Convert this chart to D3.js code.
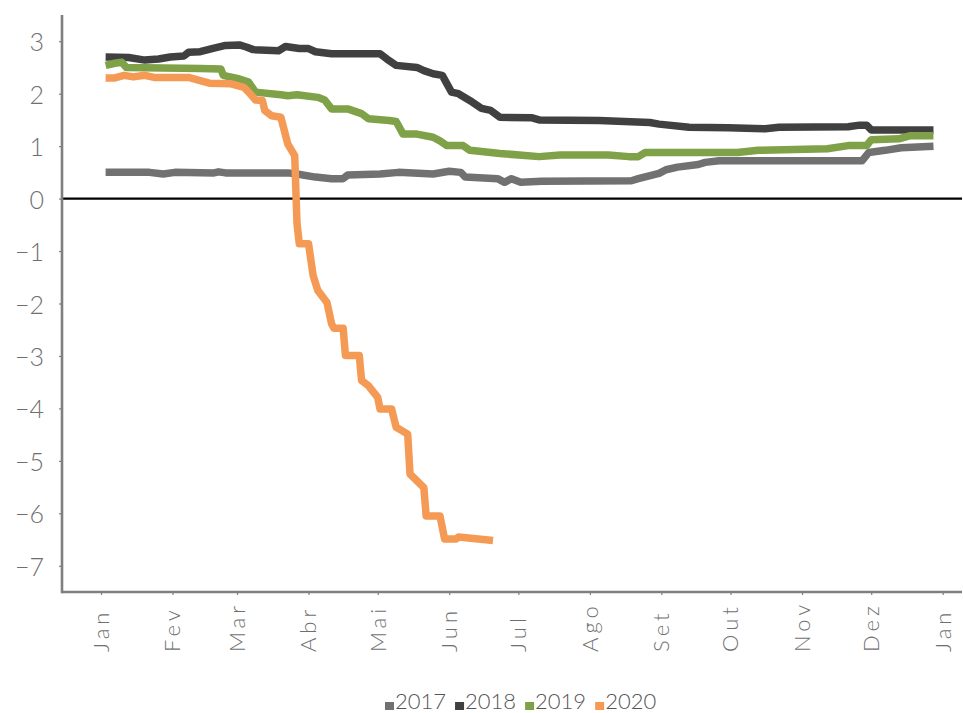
<!DOCTYPE html>
<html>
<head>
<meta charset="utf-8">
<script src="https://cdn.jsdelivr.net/npm/d3@7"></script>
<style>
  body { margin: 0; background: #fff; }
  svg text { font-family: Lato, "Open Sans", sans-serif; font-weight: 300; }
</style>
</head>
<body>
<svg id="chart" width="963" height="713"></svg>
<script>
// ---- data ----
const monthLabels = ["Jan","Fev","Mar","Abr","Mai","Jun","Jul","Ago","Set","Out","Nov","Dez","Jan"];
const yTickValues = [3, 2, 1, 0, -1, -2, -3, -4, -5, -6, -7];
const seriesNames = ["2017", "2018", "2019", "2020"];
const seriesColors = ["#717171", "#404040", "#7fa147", "#f59a55"];

const dates2017 = ["01-03","01-17","01-22","01-28","02-02","02-19","02-21","02-24","03-23","03-27","04-04","04-11","04-16","04-18","05-02","05-10","05-25","06-01","06-06","06-08","06-22","06-25","06-28","07-02","07-11","08-19","08-22","08-31","09-03","09-08","09-17","09-20","09-26","11-27","11-30","12-07","12-14","12-28"];
const values2017 = [0.50,0.50,0.50,0.47,0.50,0.49,0.51,0.49,0.49,0.47,0.41,0.38,0.38,0.45,0.47,0.50,0.47,0.52,0.50,0.41,0.38,0.31,0.38,0.31,0.33,0.34,0.38,0.48,0.55,0.60,0.65,0.69,0.72,0.72,0.88,0.92,0.97,1.00];

const dates2018 = ["01-03","01-13","01-20","01-26","01-31","02-06","02-08","02-13","02-19","02-24","03-02","03-05","03-08","03-19","03-22","03-28","04-01","04-04","04-11","05-02","05-05","05-09","05-18","05-21","05-25","05-29","06-02","06-05","06-11","06-15","06-19","06-23","07-07","07-10","08-05","08-27","08-31","09-13","09-30","10-16","10-22","11-21","11-26","11-29","12-01","12-28"];
const values2018 = [2.70,2.69,2.64,2.66,2.70,2.72,2.79,2.80,2.87,2.92,2.93,2.89,2.84,2.82,2.90,2.86,2.86,2.80,2.76,2.76,2.66,2.54,2.50,2.44,2.38,2.35,2.03,2.00,1.84,1.72,1.68,1.55,1.54,1.50,1.49,1.45,1.42,1.36,1.35,1.33,1.36,1.37,1.40,1.40,1.31,1.31];

const dates2019 = ["01-03","01-07","01-10","01-12","02-13","02-22","02-23","03-02","03-06","03-09","03-20","03-23","03-27","04-05","04-08","04-11","04-18","04-24","04-27","05-06","05-09","05-12","05-18","05-25","05-28","05-31","06-07","06-10","06-23","07-10","07-19","08-09","08-18","08-22","08-25","10-04","10-13","11-12","11-21","11-29","12-01","12-13","12-18","12-28"];
const values2019 = [2.54,2.58,2.60,2.50,2.48,2.47,2.35,2.28,2.22,2.03,1.98,1.96,1.98,1.93,1.88,1.71,1.71,1.62,1.52,1.49,1.47,1.23,1.23,1.17,1.10,1.01,1.01,0.92,0.86,0.80,0.83,0.83,0.80,0.80,0.88,0.88,0.92,0.95,1.01,1.01,1.12,1.14,1.20,1.20];

const dates2020 = ["01-03","01-07","01-11","01-15","01-20","01-24","02-08","02-13","02-17","02-26","03-04","03-06","03-09","03-12","03-13","03-16","03-20","03-23","03-26","03-27","03-28","04-01","04-03","04-05","04-09","04-11","04-12","04-16","04-17","04-23","04-24","04-27","05-01","05-02","05-07","05-09","05-14","05-15","05-21","05-22","05-28","05-30","06-04","06-05","06-20"];
const values2020 = [2.30,2.30,2.35,2.32,2.35,2.31,2.31,2.25,2.20,2.19,2.12,2.03,1.88,1.87,1.68,1.58,1.55,1.04,0.82,-0.48,-0.86,-0.86,-1.47,-1.75,-1.98,-2.39,-2.47,-2.47,-2.99,-2.99,-3.47,-3.57,-3.79,-4.01,-4.01,-4.36,-4.49,-5.25,-5.51,-6.05,-6.05,-6.49,-6.49,-6.45,-6.52];

const seriesDates = [dates2017, dates2018, dates2019, dates2020];
const seriesValues = [values2017, values2018, values2019, values2020];

// ---- chart ----
const svg = d3.select("#chart");
const parse = d3.timeParse("%m-%d"); // year 1900 (non-leap)
const start = new Date(1900, 0, 1), end = new Date(1901, 0, 1);

const x = d3.scaleTime().domain([start, end]).range([101, 942.7]);
const y = d3.scaleLinear().domain([-7.5, 3.5]).range([592, 15]);

const plotLeft = 62, plotRight = 962;
const axisColor = "#7f7f7f", textColor = "#6f6f6f";

// zero line
svg.append("line")
  .attr("x1", plotLeft).attr("x2", plotRight)
  .attr("y1", y(0)).attr("y2", y(0))
  .attr("stroke", "#000").attr("stroke-width", 2.2);

// y axis
const yAxis = svg.append("g").attr("transform", `translate(${plotLeft},0)`)
  .call(d3.axisLeft(y).tickValues(yTickValues).tickSize(3).tickPadding(15)
    .tickFormat(d => d < 0 ? "\u2212" + Math.abs(d) : String(d)));
yAxis.select(".domain").remove();
yAxis.selectAll(".tick line").attr("stroke", axisColor).attr("stroke-width", 1.2);
yAxis.selectAll(".tick text").attr("fill", textColor).attr("font-size", 25)
  .attr("font-family", null).attr("dy", "0.38em");
svg.append("line").attr("x1", plotLeft).attr("x2", plotLeft)
  .attr("y1", y(3.5)).attr("y2", y(-7.5) + 1.2)
  .attr("stroke", axisColor).attr("stroke-width", 2.6);

// x axis
const monthTicks = d3.timeMonth.range(start, d3.timeDay.offset(end, 1));
const xAxis = svg.append("g").attr("transform", `translate(0,${y(-7.5)})`)
  .call(d3.axisBottom(x).tickValues(monthTicks).tickSize(3).tickFormat(""));
xAxis.select(".domain").remove();
xAxis.selectAll(".tick line").attr("stroke", axisColor).attr("stroke-width", 1.2);
svg.append("line").attr("x1", plotLeft).attr("x2", plotRight)
  .attr("y1", y(-7.5)).attr("y2", y(-7.5))
  .attr("stroke", axisColor).attr("stroke-width", 2.6);

svg.append("g").selectAll("text").data(monthTicks).join("text")
  .attr("transform", (d) => `translate(${x(d)},652) rotate(-90)`)
  .attr("text-anchor", "start")
  .attr("dy", "0.36em")
  .attr("font-size", 22)
  .attr("letter-spacing", 4)
  .attr("fill", textColor)
  .text((d, i) => monthLabels[i]);

// lines
const line = d3.line().x(d => x(d.date)).y(d => y(d.value)).curve(d3.curveLinear);
seriesNames.forEach((name, i) => {
  const pts = seriesDates[i].map((s, j) => ({ date: parse(s), value: seriesValues[i][j] }));
  svg.append("path").datum(pts)
    .attr("d", line)
    .attr("fill", "none")
    .attr("stroke", seriesColors[i])
    .attr("stroke-width", 7.5)
    .attr("stroke-linejoin", "round");
});

// legend
const legend = svg.append("g");
let lx = 385;
seriesNames.forEach((name, i) => {
  legend.append("rect").attr("x", lx).attr("y", 702).attr("width", 9).attr("height", 8)
    .attr("fill", seriesColors[i]);
  const t = legend.append("text").attr("x", lx + 10).attr("y", 708.5)
    .attr("font-size", 22).attr("fill", "#555").text(name);
  lx += 10 + t.node().getComputedTextLength() + 9;
});
</script>
</body>
</html>
